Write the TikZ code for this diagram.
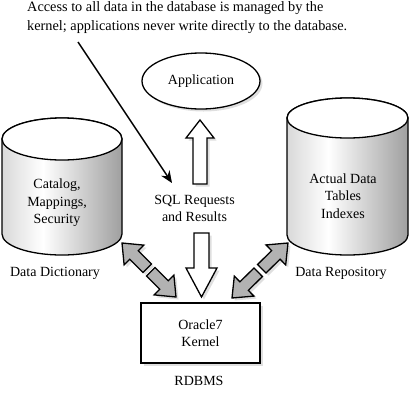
\documentclass[tikz,border=0pt]{standalone}
\usepackage{fontspec}
\setmainfont{Liberation Serif}
\usetikzlibrary{calc,shadows,arrows.meta,shapes.geometric}
\pgfdeclarehorizontalshading{cylshade}{100bp}{color(0bp)=(gray!30); color(25bp)=(gray!30); color(42bp)=(white); color(75bp)=(gray!75); color(100bp)=(gray!75)}
\newcommand{\blockarr}[6]{%
  \coordinate (hb) at ($(#3)!#6!(#2)$);
  \draw[#1] ($(#2)!#4!90:(#3)$) -- ($(hb)!#4!90:(#3)$) -- ($(hb)!#5!90:(#3)$) -- (#3)
    -- ($(hb)!#5!-90:(#3)$) -- ($(hb)!#4!-90:(#3)$) -- ($(#2)!#4!-90:(#3)$) -- cycle;}
\begin{document}
\begin{tikzpicture}[x=1pt,y=1pt,
  txt/.style={font=\fontsize{14}{17.5}\selectfont, align=center, inner sep=0pt},
  shad/.style={drop shadow={opacity=0.25, shadow xshift=2.5pt, shadow yshift=-2.5pt}},
  hollow/.style={draw=black, line width=1.3pt, fill=white, line join=miter, shad},
  grayarr/.style={draw=black, line width=1.3pt, fill=gray!60, line join=miter, shad},
  cylbody/.style={draw=black, line width=1.3pt, shading=cylshade}]
\useasboundingbox (0,0) rectangle (410,-405);

% top note
\node[anchor=north west, align=left, inner sep=0pt, font=\fontsize{14.3}{19}\selectfont] (note) at (27,-1) {Access to all data in the database is managed by the\\kernel; applications never write directly to the database.};

% left cylinder
\draw[cylbody] (2,-139) -- (2,-234) arc (180:360:60 and 21) -- (122,-139) arc (0:180:60 and 21) -- cycle;
\draw[line width=1.3pt, fill=white] (62,-139) ellipse [x radius=60, y radius=21];
\node[txt] (dict) at (57,-203) {Catalog,\\Mappings,\\Security};
\node[txt] (dictlab) at (55,-273) {Data Dictionary};

% right cylinder
\draw[cylbody] (287,-118) -- (287,-235) arc (180:360:60.5 and 20) -- (408,-118) arc (0:180:60.5 and 20) -- cycle;
\draw[line width=1.3pt, fill=white] (347.5,-118) ellipse [x radius=60.5, y radius=20];
\node[txt] (repo) at (343,-196) {Actual Data\\Tables\\Indexes};
\node[txt] (repolab) at (341,-273) {Data Repository};

% application
\node[draw, line width=1.3pt, fill=white, ellipse, minimum width=118pt, minimum height=56pt, inner sep=0pt, shad, txt] (app) at (201,-81) {Application};
% SQL text
\node[txt] (sql) at (194.5,-208.5) {SQL Requests\\and Results};

% kernel
\node[draw, line width=1.3pt, fill=white, minimum width=119pt, minimum height=60pt, inner sep=0pt, shad, txt] (kernel) at (200.5,-333) {Oracle7\\Kernel};
\node[txt] (rdbms) at (199,-381) {RDBMS};

% pointer arrow
\coordinate (noteS) at (78,-42);
\coordinate (noteT) at (172,-183);
\draw[line width=1.4pt, -{Stealth[length=12pt,width=10pt]}] (noteS) -- (noteT);

% hollow arrows
\coordinate (upS) at (200,-184);
\coordinate (upT) at (200,-120);
\blockarr{hollow}{upS}{upT}{7pt}{14pt}{18pt}
\coordinate (dnS) at (201.5,-233);
\coordinate (dnT) at (201.5,-297);
\blockarr{hollow}{dnS}{dnT}{7.5pt}{15.5pt}{29pt}

% gray arrows left
\coordinate (lA) at (122,-243);
\coordinate (lB) at (176,-297);
\coordinate (lM) at ($(lA)!0.5!(lB)$);
\coordinate (lA0) at ($(lM)!2.5pt!(lA)$);
\coordinate (lB0) at ($(lM)!2.5pt!(lB)$);
\blockarr{grayarr}{lA0}{lA}{6pt}{14pt}{17pt}
\blockarr{grayarr}{lB0}{lB}{6pt}{14pt}{17pt}

% gray arrows right
\coordinate (rA) at (288,-243);
\coordinate (rB) at (232,-298);
\coordinate (rM) at ($(rA)!0.5!(rB)$);
\coordinate (rA0) at ($(rM)!2.5pt!(rA)$);
\coordinate (rB0) at ($(rM)!2.5pt!(rB)$);
\blockarr{grayarr}{rA0}{rA}{6pt}{14pt}{17pt}
\blockarr{grayarr}{rB0}{rB}{6pt}{14pt}{17pt}
\end{tikzpicture}
\end{document}
